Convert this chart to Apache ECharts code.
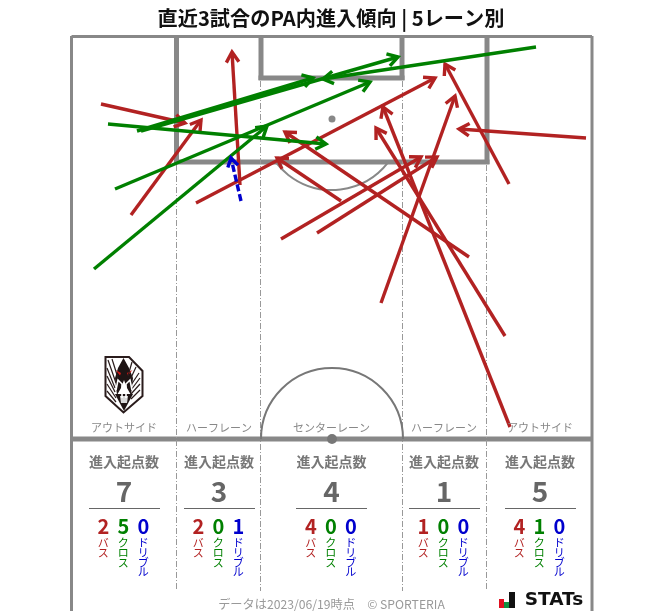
<!DOCTYPE html>
<html><head><meta charset="utf-8">
<style>html,body{margin:0;padding:0;background:#fff}#c{width:663px;height:611px}</style>
<script src="https://cdn.jsdelivr.net/npm/echarts@6/dist/echarts.min.js"></script>
</head><body><div id="c"></div>
<script>
const title = '直近3試合のPA内進入傾向 | 5レーン別';
const laneNames = ['アウトサイド','ハーフレーン','センターレーン','ハーフレーン','アウトサイド'];
const startTotals = [7,3,4,1,5];
const passCounts = [2,2,4,1,4];
const crossCounts = [5,0,0,0,1];
const dribbleCounts = [0,1,0,0,0];
const kindLabels = ['バス','クロス','ドリブル'];
// each entry: from x, from y, to x, to y on the picture's pitch scale
const passArrows = [
  [101,104,185,123],[131,215,201,120],[196,203,435,78],[240,185,232,52],
  [341,201,277,158],[281,239,421,157],[317,233,437,157],[381,303,455,96],
  [469,257,285,132],[509,184,445,64],[586,138,459,129],[505,336,376,128],[510,427,383,107]
];
const crossArrows = [
  [108,124,326,144],[115,189,370,82],[94,269,267,126],
  [141,131,398,57],[137,131,313,78],[536,47,323,79]
];
const dribbleArrows = [[241,201,231,158]];

const FONT = '"Noto Sans CJK JP","Noto Sans",sans-serif';
const RED='#b22222', GREEN='#008000', BLUE='#0000cd', LINE='#888888';
const laneCenters=[124,219,331.5,444,540];
const laneRules=[[89,160],[184,255],[296,367],[409,480],[505,576]];

function arrowSeries(data,color,dashed,z){
  return {type:'custom',coordinateSystem:'cartesian2d',z,silent:true,clip:false,
    encode:{x:[0,2],y:[1,3]},data,
    renderItem(p,api){
      const a=api.coord([api.value(0),api.value(1)]),b=api.coord([api.value(2),api.value(3)]);
      const ang=Math.atan2(b[1]-a[1],b[0]-a[0]),L=dashed?10:12,w=0.55;
      const wing=s=>[b[0]-L*Math.cos(ang+s*w),b[1]-L*Math.sin(ang+s*w)];
      const st={stroke:color,lineWidth:3.4,fill:'none'};
      const shaft=dashed?Object.assign({},st,{lineDash:[7,3]}):st;
      return {type:'group',children:[
        {type:'line',shape:{x1:a[0],y1:a[1],x2:b[0],y2:b[1]},style:shaft},
        {type:'polyline',shape:{points:[wing(1),b,wing(-1)]},style:st}
      ]};
    }};
}
// pitch furniture
const pitchLines=[
  [71.5,36.5,592,36.5,3],[71.5,36,71.5,611,3],[592,36,592,611,3],[71.5,439,592,439,5],
  [176.5,36,176.5,164,5],[487,36,487,164,5],[174,162,489.5,162,5],
  [261,36,261,80,5],[402,36,402,80,5],[258.5,78,404.5,78,5]
];
const laneDividers=[176.5,260.5,402.5,486.5];
const pitchSeries={type:'custom',coordinateSystem:'cartesian2d',z:1,silent:true,clip:false,
  encode:{x:[0,2],y:[1,3]},data:pitchLines,
  renderItem(p,api){
    const a=api.coord([api.value(0),api.value(1)]),b=api.coord([api.value(2),api.value(3)]);
    return {type:'line',shape:{x1:a[0],y1:a[1],x2:b[0],y2:b[1]},style:{stroke:LINE,lineWidth:api.value(4)}};
  }};

const g=[];
const txt=(x,y,text,fontSize,fill,fontWeight,extra)=>g.push({type:'text',z:20,silent:true,x,y,
  style:Object.assign({text,fontSize,fill,fontWeight:fontWeight||'normal',fontFamily:FONT,align:'center',verticalAlign:'middle'},extra||{})});
// lane dividers, arcs and spots
const vline=(x,y1,y2)=>g.push({type:'line',z:2,silent:true,shape:{x1:x,y1,x2:x,y2},style:{stroke:'#999',lineWidth:1,lineDash:[6,2,1,2]}});
laneDividers.forEach(x=>{const inner=(x>200&&x<450);vline(x,inner?81:165,591);});
g.push({type:'arc',z:2,silent:true,shape:{cx:332,cy:439,r:71,startAngle:Math.PI,endAngle:0,clockwise:true},style:{stroke:'#777',lineWidth:2,fill:'none'}});
g.push({type:'arc',z:2,silent:true,shape:{cx:332,cy:119,r:71,startAngle:Math.atan2(43,55),endAngle:Math.PI-Math.atan2(43,55),clockwise:true},style:{stroke:'#888',lineWidth:2,fill:'none'}});
g.push({type:'circle',z:3,silent:true,shape:{cx:332,cy:119,r:3.5},style:{fill:'#888'}});
g.push({type:'circle',z:3,silent:true,shape:{cx:332,cy:439,r:5},style:{fill:'#777'}});

txt(331,18,title,20.2,'#111','bold');
laneCenters.forEach((cx,i)=>{
  txt(cx,428,laneNames[i],11,'#888');
  txt(cx,462,'進入起点数',14,'#777','bold');
  txt(cx,491,String(startTotals[i]),28,'#666','bold');
  g.push({type:'line',z:5,silent:true,shape:{x1:laneRules[i][0],y1:508.5,x2:laneRules[i][1],y2:508.5},style:{stroke:'#666',lineWidth:1}});
  [[passCounts,RED],[crossCounts,GREEN],[dribbleCounts,BLUE]].forEach(([arr,col],k)=>{
    const x=cx-0.7+(k-1)*20;
    txt(x,526,String(arr[i]),20,col,'bold');
    txt(x,538.5,kindLabels[k].split('').join('\n'),11,col,'normal',{verticalAlign:'top',lineHeight:9.6});
  });
});
txt(331.5,604,'データは2023/06/19時点　© SPORTERIA',12.2,'#999');

// club crest
const poly=(points,fill,stroke,lw)=>g.push({type:'polygon',z:6,silent:true,shape:{points},style:{fill:fill||'none',stroke:stroke||null,lineWidth:lw||0}});
const stroke=(points,col,lw)=>g.push({type:'polyline',z:7,silent:true,shape:{points},style:{stroke:col,lineWidth:lw,fill:'none'}});
poly([[105.5,357],[129,357],[142.5,371],[142.5,396],[123.5,412.5],[105.5,396]],'#fff','#2a1c1c',2);
[[[108,360],[116,383]],[[112,359],[118,378]],[[107,368],[115,388]],[[107,376],[115,392]],[[107,384],[116,398]],[[107,391],[116,402]],
 [[139,373],[131,385]],[[140,378],[131,390]],[[140,384],[131,394]],[[140,390],[131,399]],[[132,362],[128,376]],[[136,367],[130,380]]]
 .forEach(p=>stroke(p,'#2a1c1c',1.2));
poly([[123.5,358],[129,368],[133,378],[131,395],[127,388],[124,380],[121,388],[117,395],[115,378],[118,368]],'#1e1414');
stroke([[116,390],[118,380],[122,384],[122,398]],'#fff',1.6);
stroke([[132,390],[130,380],[126,384],[126,398]],'#fff',1.6);
poly([[115,394],[133,394],[124,411]],'#1e1414');
poly([[120,396],[128,396],[127,403],[121,403]],'#d9d9d9');
poly([[115.5,370],[121,373],[120,375.5]],'#d01818');
poly([[132.5,370],[127,373],[128,375.5]],'#d01818');

// STATS mark
g.push({type:'rect',z:6,silent:true,shape:{x:499,y:599,width:5,height:9},style:{fill:'#e01020'}});
g.push({type:'rect',z:6,silent:true,shape:{x:504,y:602,width:5,height:6},style:{fill:'#109040'}});
g.push({type:'rect',z:6,silent:true,shape:{x:509,y:592,width:6,height:16},style:{fill:'#111'}});
txt(554,600,'STATs',18.5,'#111','bold',{fontFamily:'"DejaVu Sans",sans-serif'});

const chart=echarts.init(document.getElementById('c'),null,{renderer:'canvas'});
chart.setOption({
  animation:false,
  grid:{left:0,right:0,top:0,bottom:0},
  xAxis:{type:'value',min:0,max:663,show:false},
  yAxis:{type:'value',min:0,max:611,inverse:true,show:false},
  graphic:g,
  series:[pitchSeries,arrowSeries(passArrows,RED,false,10),arrowSeries(crossArrows,GREEN,false,11),arrowSeries(dribbleArrows,BLUE,true,12)]
});
</script></body></html>
